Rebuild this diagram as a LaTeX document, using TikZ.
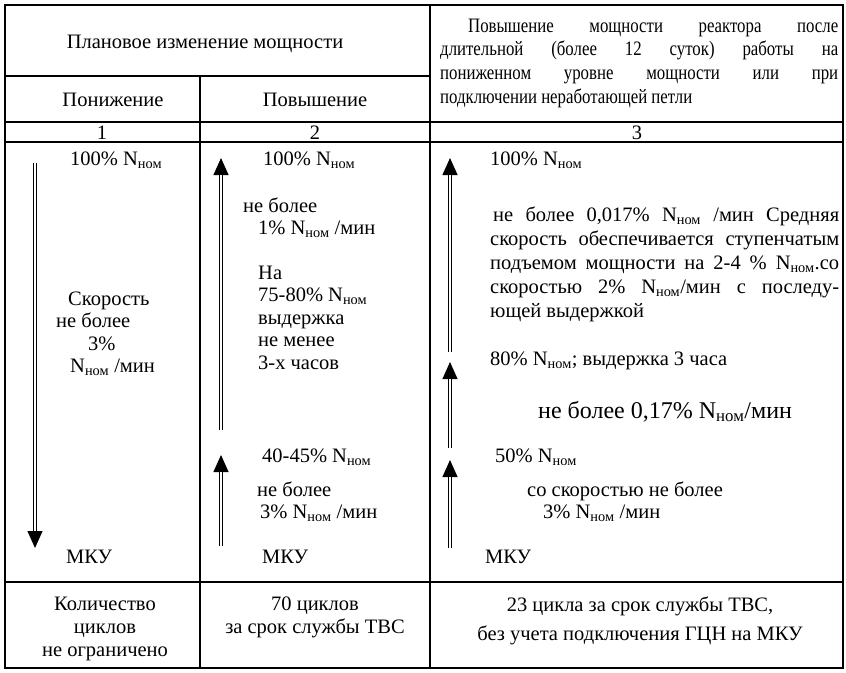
\documentclass[tikz,border=0pt]{standalone}
\usepackage{fontspec}
\setmainfont{Liberation Serif}
\newfontfamily\hdrfont[FakeStretch=0.82]{Liberation Serif}
\usetikzlibrary{arrows.meta}
\newcommand{\Nnom}{N\textsubscript{ном}}

\begin{document}
\begin{tikzpicture}
	[x=1pt,y=-1pt,
	 txt/.style={anchor=base west,inner sep=0pt,align=left,font=\fontsize{20.5}{22.5}\selectfont},
	 ctxt/.style={anchor=base,inner sep=0pt,align=center,font=\fontsize{20.5}{23}\selectfont},
	 hdr/.style={anchor=base,inner sep=0pt,font=\fontsize{20.5}{23.7}\selectfont},
	 tip/.style={-{Triangle[width=15pt,length=17pt]},line width=1pt},
	 shaft/.style={double,double distance=2.6pt,line width=1.1pt,shorten >=17pt}]
\useasboundingbox (0,0) rectangle (846,672);
% table rules
\draw[line width=1.2pt] (5,5) rectangle (843,668)
(430,5) -- (430,668)
(200,76) -- (200,668)
(5,76) -- (430,76)
(5,122) -- (843,122)
(5,142) -- (843,142)
(5,582) -- (843,582);
% head
\node[hdr] (plan) at (205,48) {Плановое изменение мощности};
\node[hdr] (down) at (113,106) {Понижение};
\node[hdr] (up) at (315,106) {Повышение};
\node[hdr,anchor=base west,text width=398pt,align=justify,font=\hdrfont\fontsize{20.5}{23.7}\selectfont] (long) at (440,32)
{\hspace*{28pt}Повышение мощности реактора после\linebreak
длительной (более 12 суток) работы на\linebreak
пониженном уровне мощности или при\linebreak
подключении неработающей петли};
\node[ctxt] (n1) at (102,139) {1};
\node[ctxt] (n2) at (315,139) {2};
\node[ctxt] (n3) at (637,139) {3};
% column 1
\node[txt] (c1top) at (70,165) {100\% \Nnom};
\node[txt] (c1rate) at (56,372.5) {\hspace*{12pt}Скорость\\не более\\\hspace*{32pt}3\%\\\hspace*{14pt}\Nnom{} /мин};
\node[txt] (c1mku) at (66,563) {МКУ};
% column 2
\node[txt] (c2top) at (263,165) {100\% \Nnom};
\node[txt] (c2rate) at (243,234.5) {не более\\\hspace*{15pt}1\% \Nnom{} /мин};
\node[txt] (c2hold) at (258,369) {На\\75-80\% \Nnom\\выдержка\\не менее\\3-х часов};
\node[txt] (c2mid) at (262,462) {40-45\% \Nnom};
\node[txt] (c2low) at (257,518.5) {не более\\\hspace*{3pt}3\% \Nnom{} /мин};
\node[txt] (c2mku) at (262,563) {МКУ};
% column 3
\node[txt] (c3top) at (490,165) {100\% \Nnom};
\node[txt,text width=349pt,align=justify,font=\fontsize{20.5}{24}\selectfont] (c3rate) at (490,221)
{\hspace*{3pt}не более 0,017\% \Nnom{} /мин Средняя\linebreak
скорость обеспечивается ступенчатым\linebreak
подъемом мощности на 2-4 \% \Nnom.со\linebreak
скоростью 2\% \Nnom/мин с последу-\linebreak
ющей выдержкой};
\node[txt] (c3hold) at (490,365) {80\% \Nnom; выдержка 3 часа};
\node[txt,font=\fontsize{24}{26}\selectfont] (c3mid) at (538,418) {не более 0,17\% \Nnom/мин};
\node[txt] (c3half) at (495,462) {50\% \Nnom};
\node[txt] (c3low) at (527,518.5) {со скоростью не более\\\hspace*{16pt}3\% \Nnom{} /мин};
\node[txt] (c3mku) at (485,563) {МКУ};
% bottom row
\node[ctxt] (cyc1) at (105,656) {Количество\\циклов\\не ограничено};
\node[ctxt] (cyc2) at (315,633) {70 циклов\\за срок службы ТВС};
\node[ctxt,font=\fontsize{20.5}{29}\selectfont] (cyc3) at (640,640) {23 цикла за срок службы ТВС,\\без учета подключения ГЦН на МКУ};
% arrows
\coordinate (d1s) at (35,163);  \coordinate (d1e) at (35,548);
\coordinate (u2s) at (221,430); \coordinate (u2e) at (221,158);
\coordinate (v2s) at (221,546); \coordinate (v2e) at (221,455);
\coordinate (u3s) at (450,352); \coordinate (u3e) at (450,158);
\coordinate (v3s) at (450,448); \coordinate (v3e) at (450,362);
\coordinate (w3s) at (450,548); \coordinate (w3e) at (450,460);
\foreach \s/\e in {d1s/d1e,u2s/u2e,v2s/v2e,u3s/u3e,v3s/v3e,w3s/w3e}
{\draw[tip] (\s) -- (\e);
\draw[shaft] (\s) -- (\e);}
\end{tikzpicture}
\end{document}
